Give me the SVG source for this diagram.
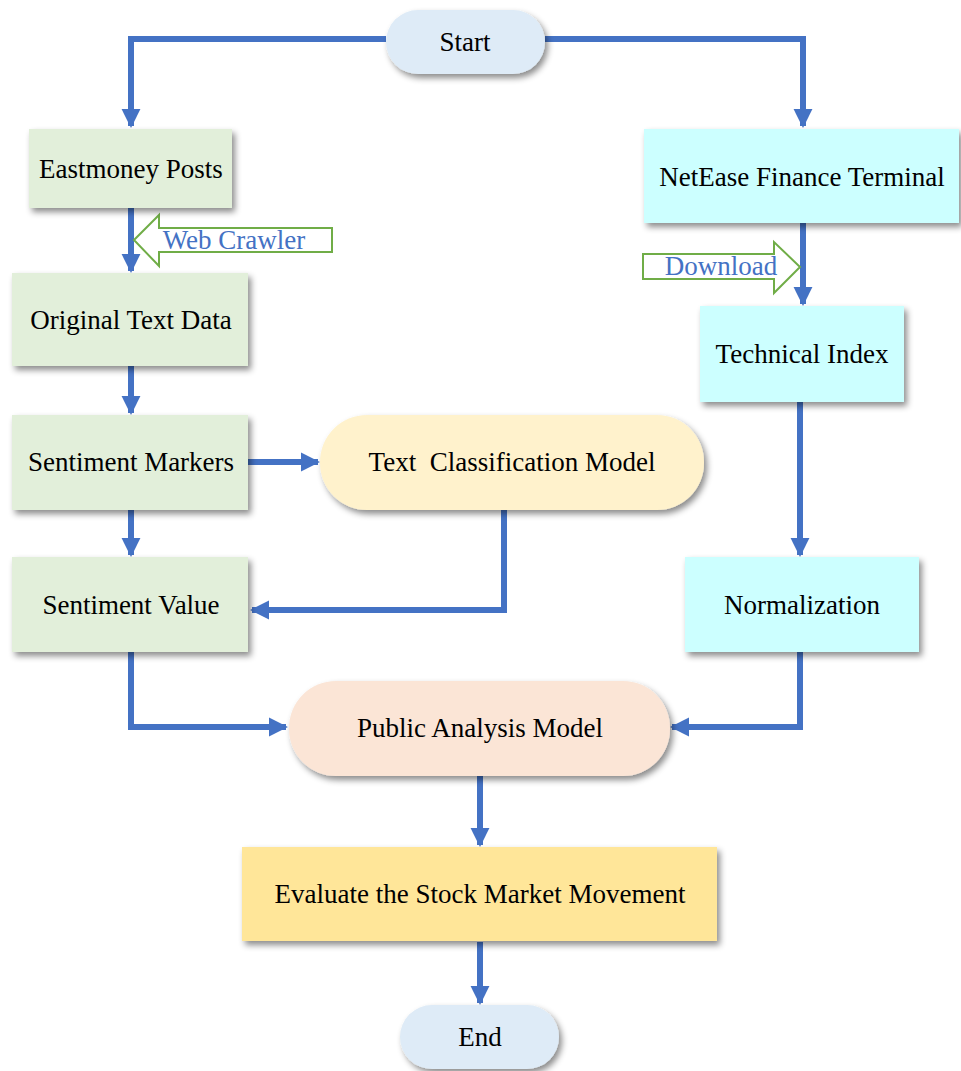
<svg xmlns="http://www.w3.org/2000/svg" width="961" height="1071" viewBox="0 0 961 1071">
<defs>
<filter id="sh" x="-10%" y="-10%" width="125%" height="135%">
<feDropShadow dx="3" dy="4" stdDeviation="3" flood-color="#000" flood-opacity="0.45"/>
</filter>
<marker id="ah" viewBox="0 0 10 10" refX="9" refY="5" markerWidth="3.2" markerHeight="3.2" orient="auto" markerUnits="strokeWidth">
<path d="M0,0 L10,5 L0,10 Z" fill="#4472C4"/>
</marker>
<style>
.t{font-family:"Liberation Serif","Times New Roman",serif;font-size:27px;fill:#000;text-anchor:middle;dominant-baseline:central}
.b{font-family:"Liberation Serif","Times New Roman",serif;font-size:27px;fill:#4472C4;text-anchor:middle;dominant-baseline:central}
.c{fill:none;stroke:#4472C4;stroke-width:6;stroke-linejoin:miter}
.g{fill:#E2EFDA;filter:url(#sh)}
.cy{fill:#CCFFFF;filter:url(#sh)}
.oa{fill:#fff;stroke:#70AD47;stroke-width:2}
</style>
</defs>
<rect width="961" height="1071" fill="#fff"/>
<g id="connectors">
<polyline class="c" points="386,39 131,39 131,126" marker-end="url(#ah)"/>
<polyline class="c" points="545,39 803,39 803,126" marker-end="url(#ah)"/>
<polyline class="c" points="131,208 131,271" marker-end="url(#ah)"/>
<polyline class="c" points="131,366 131,413" marker-end="url(#ah)"/>
<polyline class="c" points="248,462 318,462" marker-end="url(#ah)"/>
<polyline class="c" points="131,510 131,555" marker-end="url(#ah)"/>
<polyline class="c" points="504,510 504,610 252,610" marker-end="url(#ah)"/>
<polyline class="c" points="131,652 131,727 286,727" marker-end="url(#ah)"/>
<polyline class="c" points="803,223 803,304" marker-end="url(#ah)"/>
<polyline class="c" points="800,402 800,555" marker-end="url(#ah)"/>
<polyline class="c" points="800,652 800,727 672,727" marker-end="url(#ah)"/>
<polyline class="c" points="480,776 480,845" marker-end="url(#ah)"/>
<polyline class="c" points="480,942 480,1003" marker-end="url(#ah)"/>
</g>
<g id="web-crawler">
<path class="oa" d="M134,240 L159,215 L159,228 L332,228 L332,252 L159,252 L159,266 Z"/>
<text class="b" x="234" y="240">Web Crawler</text>
</g>
<g id="download">
<path class="oa" d="M643,254 L774,254 L774,242 L800,267 L774,293 L774,279 L643,279 Z"/>
<text class="b" x="721" y="266">Download</text>
</g>
<g id="start">
<rect x="386" y="10" width="159" height="64" rx="32" fill="#DEEBF7" filter="url(#sh)"/>
<text class="t" x="465" y="42">Start</text>
</g>
<g id="eastmoney">
<rect class="g" x="29" y="129" width="203" height="79"/>
<text class="t" x="131" y="169">Eastmoney Posts</text>
</g>
<g id="original">
<rect class="g" x="12" y="273" width="236" height="93"/>
<text class="t" x="131" y="320">Original Text Data</text>
</g>
<g id="markers">
<rect class="g" x="12" y="415" width="236" height="95"/>
<text class="t" x="131" y="462">Sentiment Markers</text>
</g>
<g id="value">
<rect class="g" x="12" y="557" width="236" height="95"/>
<text class="t" x="131" y="605">Sentiment Value</text>
</g>
<g id="tcm">
<rect x="320" y="415" width="384" height="95" rx="47" fill="#FFF2CC" filter="url(#sh)"/>
<text class="t" x="512" y="462" xml:space="preserve">Text  Classification Model</text>
</g>
<g id="netease">
<rect class="cy" x="644" y="129" width="315" height="94"/>
<text class="t" x="802" y="177">NetEase Finance Terminal</text>
</g>
<g id="technical">
<rect class="cy" x="700" y="306" width="204" height="96"/>
<text class="t" x="802" y="354">Technical Index</text>
</g>
<g id="normalization">
<rect class="cy" x="685" y="557" width="234" height="95"/>
<text class="t" x="802" y="605">Normalization</text>
</g>
<g id="pam">
<rect x="289" y="681" width="381" height="95" rx="47" fill="#FBE5D6" filter="url(#sh)"/>
<text class="t" x="480" y="728">Public Analysis Model</text>
</g>
<g id="evaluate">
<rect x="242" y="847" width="475" height="94" fill="#FFE699" filter="url(#sh)"/>
<text class="t" x="480" y="894">Evaluate the Stock Market Movement</text>
</g>
<g id="end">
<rect x="400" y="1005" width="159" height="64" rx="32" fill="#DEEBF7" filter="url(#sh)"/>
<text class="t" x="480" y="1037">End</text>
</g>
</svg>
